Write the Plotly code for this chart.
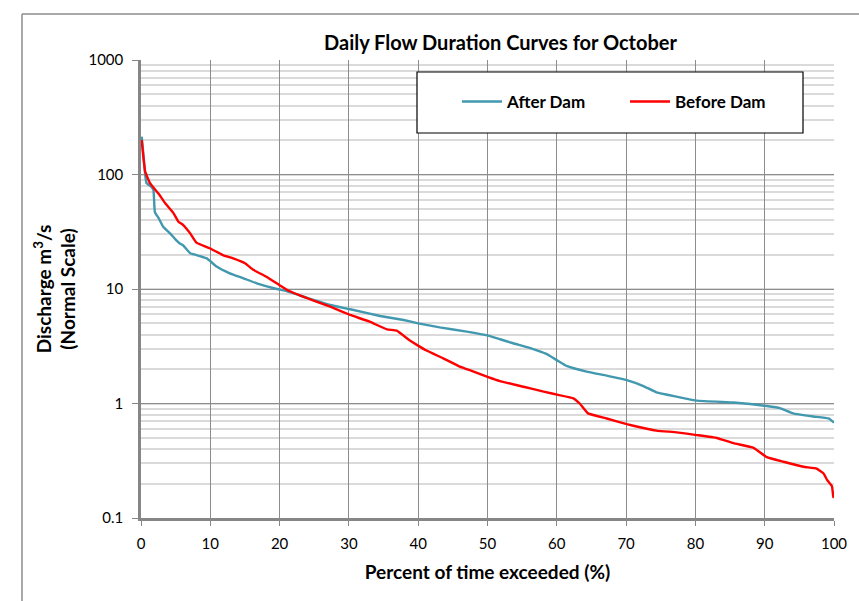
import plotly.graph_objects as go

# ---- data ----
after_pct = [0.1, 0.3, 0.6, 0.8, 1.5, 1.8, 2.0, 2.5, 3.2, 4.2, 5.0, 5.6, 6.1, 7.1, 8.0, 9.5,
             10.9, 12.8, 14.8, 16.7, 19.6, 21.0, 23.4, 25.0, 27.3, 30.2, 34.5, 37.9, 40.0,
             43.1, 47.0, 50.1, 51.8, 53.7, 56.6, 58.5, 60.2, 61.4, 64.3, 67.2, 70.1, 72.5,
             74.4, 77.8, 80.2, 85.5, 87.9, 90.3, 92.2, 94.1, 97.0, 99.2, 100.0]
after_q = [214, 160, 100, 84, 78, 73, 47, 42, 35, 30.6, 27, 25, 24, 20.5, 19.8, 18.5,
           15.7, 13.7, 12.4, 11.2, 10.0, 9.6, 8.6, 8.0, 7.25, 6.65, 5.81, 5.36, 5.01,
           4.62, 4.24, 3.91, 3.64, 3.36, 2.99, 2.71, 2.35, 2.13, 1.90, 1.75, 1.60, 1.42,
           1.25, 1.13, 1.06, 1.02, 0.99, 0.95, 0.91, 0.82, 0.77, 0.74, 0.68]

before_pct = [0.1, 0.3, 0.6, 1.3, 2.7, 3.5, 4.7, 5.4, 6.1, 7.1, 8.0, 9.9, 11.8, 13.3, 15.0,
              16.2, 18.1, 20.0, 21.4, 24.9, 27.3, 30.2, 33.0, 35.5, 36.9, 38.8, 39.8, 41.2,
              43.6, 46.0, 48.0, 50.1, 51.8, 55.2, 58.1, 60.2, 62.4, 63.3, 64.5, 67.2, 70.1,
              72.0, 74.4, 77.3, 80.2, 83.1, 85.5, 88.4, 90.3, 92.7, 95.6, 97.5, 98.5, 99.0,
              99.7, 99.9, 100.0]
before_q = [200, 150, 106, 84, 66, 56, 45.8, 38.7, 36.2, 30.6, 25.4, 22.7, 19.8, 18.5, 16.8,
            14.7, 12.8, 10.8, 9.6, 7.9, 7.0, 5.93, 5.18, 4.44, 4.33, 3.55, 3.25, 2.9,
            2.48, 2.10, 1.90, 1.70, 1.57, 1.40, 1.27, 1.19, 1.11, 1.0, 0.82, 0.74, 0.66,
            0.62, 0.58, 0.56, 0.53, 0.50, 0.45, 0.41, 0.34, 0.31, 0.28, 0.27, 0.245, 0.215,
            0.19, 0.153, 0.15]

x_ticks = [0, 10, 20, 30, 40, 50, 60, 70, 80, 90, 100]
y_tickvals = [0.1, 1, 10, 100, 1000]
y_ticktext = ["0.1", "1", "10", "100", "1000"]

FONT = "Lato"
AXIS = "#868686"

fig = go.Figure()
fig.add_trace(go.Scatter(x=after_pct, y=after_q, mode="lines", name="After Dam",
                         line=dict(color="#4198AF", width=2.4, shape="spline", smoothing=0.3)))
fig.add_trace(go.Scatter(x=before_pct, y=before_q, mode="lines", name="Before Dam",
                         line=dict(color="#FF0000", width=2.4, shape="spline", smoothing=0.3)))

fig.update_layout(
    width=859, height=601,
    margin=dict(l=141, r=25, t=60, b=83, autoexpand=False),
    paper_bgcolor="white", plot_bgcolor="white",
    font=dict(family=FONT, size=15, color="#000000"),
    title=dict(text="<b>Daily Flow Duration Curves for October</b>", x=500.5 / 859, xanchor="center",
               y=1 - 43 / 601, yanchor="middle", font=dict(family=FONT, size=20, color="#000")),
    xaxis=dict(range=[0, 100], tickvals=x_ticks, showgrid=True, gridcolor="#8c8c8c", gridwidth=1.3,
               showline=True, linecolor=AXIS, linewidth=2.5, ticks="outside", ticklen=5,
               tickcolor=AXIS, tickwidth=1.3, zeroline=False, mirror=False, ticklabelstandoff=5,
               title=dict(text="<b>Percent of time exceeded (%)</b>", standoff=15,
                          font=dict(family=FONT, size=19))),
    yaxis=dict(type="log", range=[-1, 3], tickvals=y_tickvals, ticktext=y_ticktext,
               showgrid=True, gridcolor="#8c8c8c", gridwidth=1.3,
               minor=dict(showgrid=True, gridcolor="#dadada", gridwidth=1.5, dtick="D1", ticks=""),
               showline=True, linecolor=AXIS, linewidth=2.5, ticks="outside", ticklen=6,
               tickcolor=AXIS, tickwidth=1.3, zeroline=False, ticklabelstandoff=6,
               title=dict(text="<b>Discharge m<sup>3</sup>/s<br>(Normal Scale)</b>", standoff=8,
                          font=dict(family=FONT, size=19))),
    legend=dict(orientation="h", x=(457 - 141) / 693, xanchor="left",
                y=1 - (102 - 60) / 458, yanchor="middle", bgcolor="rgba(0,0,0,0)",
                borderwidth=0, entrywidth=113, entrywidthmode="pixels",
                font=dict(family=FONT, size=17, weight="bold"), itemwidth=40),
    showlegend=True,
)

# legend frame and outer chart frame
fig.add_shape(type="rect", xref="paper", yref="paper",
              x0=(417 - 141) / 693, x1=(803 - 141) / 693,
              y0=1 - (133 - 60) / 458, y1=1 - (72 - 60) / 458,
              line=dict(color="#000000", width=1.2), fillcolor="white", layer="above")
fig.add_shape(type="line", xref="paper", yref="paper",
              x0=(22 - 141) / 693, x1=(900 - 141) / 693,
              y0=1 + (60 - 14) / 458, y1=1 + (60 - 14) / 458,
              line=dict(color="#8c8c8c", width=1.5))
fig.add_shape(type="line", xref="paper", yref="paper",
              x0=(22 - 141) / 693, x1=(22 - 141) / 693,
              y0=1 + (60 - 14) / 458, y1=1 - (640 - 60) / 458,
              line=dict(color="#8c8c8c", width=1.5))

fig.write_html("out.html", config={"displayModeBar": False},
               post_script="document.body.style.margin='0';")
